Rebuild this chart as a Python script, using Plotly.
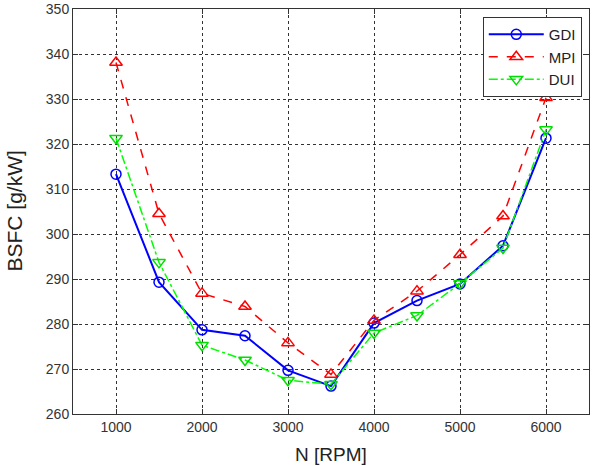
import plotly.graph_objects as go

rpm = [1000, 1500, 2000, 2500, 3000, 3500, 4000, 4500, 5000, 5500, 6000]
gdi = [313.3, 289.3, 278.7, 277.4, 269.7, 266.2, 280.2, 285.2, 288.9, 297.4, 321.3]
mpi = [338.1, 304.5, 286.8, 283.9, 275.8, 268.8, 280.8, 287.3, 295.4, 304.0, 330.3]
dui = [321.3, 293.7, 275.3, 272.0, 267.5, 266.6, 278.0, 281.9, 289.0, 296.9, 323.2]
x_ticks = [1000, 2000, 3000, 4000, 5000, 6000]
y_ticks = [260, 270, 280, 290, 300, 310, 320, 330, 340, 350]

FONT = "Liberation Sans, Arial, sans-serif"

fig = go.Figure()
fig.add_trace(go.Scatter(x=rpm, y=gdi, name="GDI", mode="lines+markers",
                         line=dict(color="#0000ff", width=2),
                         marker=dict(symbol="circle-open", size=10, color="#0000ff", line=dict(width=1.5))))
fig.add_trace(go.Scatter(x=rpm, y=mpi, name="MPI", mode="lines+markers",
                         line=dict(color="#ff0000", width=1.5, dash="dash"),
                         marker=dict(symbol="triangle-up-open", size=11, color="#ff0000", line=dict(width=1.5))))
fig.add_trace(go.Scatter(x=rpm, y=dui, name="DUI", mode="lines+markers",
                         line=dict(color="#00ff00", width=1.5, dash="dashdot"),
                         marker=dict(symbol="triangle-down-open", size=11, color="#00dd00", line=dict(width=1.5))))

axis_common = dict(showline=True, linecolor="#333333", linewidth=1, mirror="ticks",
                   ticks="inside", ticklen=5, tickcolor="#333333",
                   showgrid=True, gridcolor="#333333", griddash="3px,3px", gridwidth=1,
                   zeroline=False, automargin=False,
                   tickfont=dict(family=FONT, size=14, color="#333333"))

fig.update_xaxes(range=[500, 6500], tickvals=x_ticks, **axis_common)
fig.update_yaxes(range=[260, 350], tickvals=y_ticks, **axis_common)

L, R, T, B = 73, 10, 9, 52
W, H = 599, 466
plot_w = W - L - R
plot_h = H - T - B

fig.add_annotation(text="BSFC [g/kW]", textangle=-90, showarrow=False,
                   xref="paper", yref="paper", x=(14 - L) / plot_w, y=0.5,
                   xanchor="center", yanchor="middle",
                   font=dict(family=FONT, size=21, color="#222222"))
fig.add_annotation(text="N [RPM]", showarrow=False,
                   xref="paper", yref="paper", x=0.5, y=((H - B) - 442) / plot_h,
                   xanchor="center", yanchor="top",
                   font=dict(family=FONT, size=19, color="#222222"))

fig.update_layout(width=W, height=H, margin=dict(l=L, r=R, t=T, b=B),
                  paper_bgcolor="white", plot_bgcolor="white", autosize=False,
                  legend=dict(x=0.986, y=0.98, xanchor="right", yanchor="top",
                              bgcolor="white", bordercolor="#333333", borderwidth=1,
                              font=dict(family=FONT, size=15, color="#222222"),
                              itemwidth=55, tracegroupgap=2),
                  showlegend=True)

fig.write_html("out.html")
